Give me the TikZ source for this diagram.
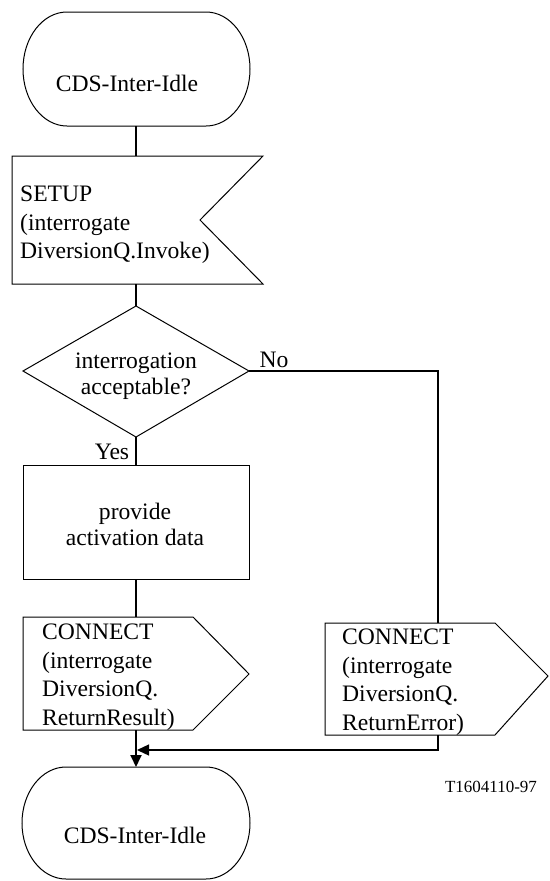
\documentclass[tikz,border=0pt]{standalone}
\usepackage{fontspec}
\setmainfont{Liberation Serif}
\usetikzlibrary{arrows.meta}
\begin{document}
\begin{tikzpicture}[x=1pt,y=-1pt,
  outline/.style={draw, line width=1pt, line join=miter},
  conn/.style={draw, line width=1.8pt},
  side/.style={draw, line width=1.3pt},
  lbl/.style={font=\fontsize{23.6}{28.5}\selectfont, inner sep=0pt, align=left},
  ctr/.style={font=\fontsize{23.6}{26}\selectfont, inner sep=0pt, align=center},
  tip/.style={-{Triangle[length=12pt,width=11pt]}}]
\useasboundingbox (0,0) rectangle (549,881);

% top terminator
\draw[outline] (67,12) -- (206,12) .. controls (230.3,12) and (250,37.5) .. (250,69)
  .. controls (250,100.5) and (230.3,126) .. (206,126) -- (67,126)
  .. controls (42.7,126) and (23,100.5) .. (23,69)
  .. controls (23,37.5) and (42.7,12) .. (67,12) -- cycle;
\node[ctr] (start) at (127,83) {CDS-Inter-Idle};
\coordinate (startS) at (136,126);

% SETUP input
\draw[outline] (12,156) -- (263,156) -- (200,220) -- (263,284) -- (12,284) -- cycle;
\node[lbl, anchor=west] (setup) at (20,225) {SETUP\\(interrogate\\DiversionQ.Invoke)};
\coordinate (setupN) at (136,156);
\coordinate (setupS) at (136,284);

% decision
\draw[outline] (136,306) -- (249,371) -- (136,437) -- (23,371) -- cycle;
\node[ctr] (dec) at (136,376) {interrogation\\acceptable?};
\coordinate (decN) at (136,306);
\coordinate (decS) at (136,437);
\coordinate (decE) at (249,371);

% task
\draw[outline] (23,465) rectangle (249,579);
\node[ctr] (task) at (135,524) {provide\\activation data};
\coordinate (taskN) at (136,465);
\coordinate (taskS) at (136,579);

% left output
\draw[outline] (23,617) -- (193,617) -- (249,674) -- (193,730) -- (23,730) -- cycle;
\node[lbl, anchor=west] (outL) at (42,677) {CONNECT\\(interrogate\\DiversionQ.\\ReturnResult)};
\coordinate (outLN) at (136,617);
\coordinate (outLS) at (136,730);

% right output
\draw[outline] (325,623) -- (495,623) -- (548,676) -- (495,735) -- (325,735) -- cycle;
\node[lbl, anchor=west] (outR) at (342,682) {CONNECT\\(interrogate\\DiversionQ.\\ReturnError)};
\coordinate (outRN) at (438,623);
\coordinate (outRS) at (438,735);

% bottom terminator
\draw[outline] (66,767) -- (206,767) .. controls (230.3,767) and (250,792.1) .. (250,823)
  .. controls (250,853.9) and (230.3,879) .. (206,879) -- (66,879)
  .. controls (41.7,879) and (22,853.9) .. (22,823)
  .. controls (22,792.1) and (41.7,767) .. (66,767) -- cycle;
\node[ctr] (end) at (135,835) {CDS-Inter-Idle};
\coordinate (endN) at (136,767);
\coordinate (join) at (137,750);

% connectors
\draw[conn] (startS) -- (setupN);
\draw[conn] (setupS) -- (decN);
\draw[conn] (decS) -- (taskN);
\draw[conn] (taskS) -- (outLN);
\draw[conn, tip] (outLS) -- (endN);
\draw[side] (decE) -- (decE -| outRN) -- (outRN);
\draw[side, tip] (outRS) -- (outRS |- join) -- (join);

% labels
\node[ctr] (no) at (274,360) {No};
\node[ctr] (yes) at (112,452) {Yes};
\node[font=\fontsize{17}{20}\selectfont, inner sep=0pt] (ref) at (491,787) {T1604110-97};
\end{tikzpicture}
\end{document}
